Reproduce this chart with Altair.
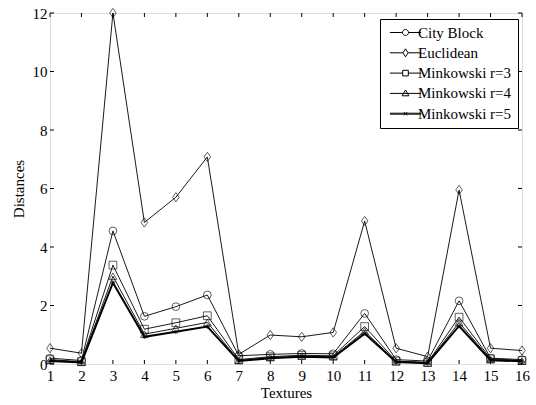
import altair as alt
import pandas as pd

textures = list(range(1, 17))
series_names = ["City Block", "Euclidean", "Minkowski r=3", "Minkowski r=4", "Minkowski r=5"]
city_block = [0.20, 0.12, 4.55, 1.63, 1.96, 2.36, 0.28, 0.33, 0.36, 0.35, 1.73, 0.15, 0.10, 2.16, 0.20, 0.15]
euclidean = [0.54, 0.37, 12.0, 4.84, 5.70, 7.08, 0.33, 0.99, 0.93, 1.08, 4.89, 0.54, 0.25, 5.95, 0.54, 0.46]
mink3 = [0.15, 0.08, 3.38, 1.19, 1.41, 1.65, 0.15, 0.25, 0.30, 0.28, 1.28, 0.10, 0.05, 1.60, 0.18, 0.12]
mink4 = [0.12, 0.06, 3.00, 1.02, 1.22, 1.42, 0.12, 0.22, 0.27, 0.25, 1.12, 0.08, 0.04, 1.42, 0.15, 0.10]
mink5 = [0.10, 0.05, 2.78, 0.93, 1.10, 1.28, 0.10, 0.20, 0.25, 0.22, 1.04, 0.07, 0.03, 1.30, 0.13, 0.09]
y_ticks = [0, 2, 4, 6, 8, 10, 12]

rows = []
for name, vals in zip(series_names, [city_block, euclidean, mink3, mink4, mink5]):
    for t, v in zip(textures, vals):
        rows.append({"Textures": t, "Distances": v, "series": name})
df = pd.DataFrame(rows)
xt_df = pd.DataFrame({"Textures": textures})
yt_df = pd.DataFrame({"Distances": y_ticks})

FONT = "Liberation Serif"
W, H = 472, 351
x_scale = alt.Scale(domain=[1, 16], nice=False, zero=False)
y_scale = alt.Scale(domain=[0, 12], nice=False, zero=False)

common_axis = dict(ticks=False, domain=False, grid=False, labelOverlap=False,
                   labelFont=FONT, labelFontSize=15, labelColor="black",
                   titleFont=FONT, titleFontSize=15, titleColor="black", titleFontWeight="normal")


def xs():
    return alt.X("Textures:Q", scale=x_scale,
                 axis=alt.Axis(values=textures, title="Textures", labelPadding=4, titlePadding=2,
                               labelFlush=False, **common_axis))


def ys():
    return alt.Y("Distances:Q", scale=y_scale,
                 axis=alt.Axis(values=y_ticks, title="Distances", labelPadding=3, titlePadding=6,
                               labelFlush=False, **common_axis))


thick = alt.datum.series == "Minkowski r=5"

lines = alt.Chart(df).mark_line(color="black").encode(
    x=xs(), y=ys(), detail="series:N",
    strokeWidth=alt.condition(thick, alt.value(2), alt.value(0.9)),
)

point_shapes = ["circle", "M0,-1.2L0.85,0L0,1.2L-0.85,0Z", "square", "triangle-up",
                "M-1,0H1M0,-1V1M-0.7,-0.7L0.7,0.7M-0.7,0.7L0.7,-0.7"]
points = alt.Chart(df).mark_point(filled=False, color="black", strokeWidth=0.9).encode(
    x=xs(), y=ys(),
    shape=alt.Shape("series:N", scale=alt.Scale(domain=series_names, range=point_shapes), legend=None),
    size=alt.condition(thick, alt.value(22), alt.value(60)),
)

legend_paths = [
    "M-3.9,0H-0.75M0.75,0H3.9M-0.75,0A0.75,0.75 0 1,0 0.75,0A0.75,0.75 0 1,0 -0.75,0",
    "M-3.9,0H-0.65M0.65,0H3.9M0,-1L0.65,0L0,1L-0.65,0Z",
    "M-3.9,0H-0.7M0.7,0H3.9M-0.7,-0.7H0.7V0.7H-0.7Z",
    "M-3.9,0H3.9M0,-0.85L0.85,0.6H-0.85Z",
    "M-3.9,-0.12H3.9M-3.9,0.12H3.9M-0.4,-0.4L0.4,0.4M-0.4,0.4L0.4,-0.4",
]
legend_layer = alt.Chart(df).transform_filter("false").mark_point(filled=False, color="black").encode(
    x=xs(), y=ys(),
    shape=alt.Shape("series:N", scale=alt.Scale(domain=series_names, range=legend_paths),
                    legend=alt.Legend(title=None, orient="none", legendX=330, legendY=6,
                                      symbolSize=64, symbolStrokeColor="black", symbolFillColor="transparent",
                                      symbolStrokeWidth=1, symbolOpacity=1,
                                      symbolOffset=12, labelOffset=5,
                                      labelFont=FONT, labelFontSize=15, labelColor="black",
                                      rowPadding=4.3, padding=6, strokeColor="black", fillColor="white",
                                      cornerRadius=0)),
)

TL = 4
tick_x_bottom = alt.Chart(xt_df).mark_rule(color="black", strokeWidth=1).encode(
    x=xs(), y=alt.value(H), y2=alt.value(H - TL))
tick_x_top = alt.Chart(xt_df).mark_rule(color="black", strokeWidth=1).encode(
    x=xs(), y=alt.value(0), y2=alt.value(TL))
tick_y_left = alt.Chart(yt_df).mark_rule(color="black", strokeWidth=1).encode(
    y=ys(), x=alt.value(0), x2=alt.value(TL))
tick_y_right = alt.Chart(yt_df).mark_rule(color="black", strokeWidth=1).encode(
    y=ys(), x=alt.value(W), x2=alt.value(W - TL))

chart = alt.layer(lines, points, tick_x_bottom, tick_x_top, tick_y_left, tick_y_right,
                  legend_layer).resolve_scale(shape="independent").properties(
    width=W, height=H,
    autosize=alt.AutoSizeParams(type="none"),
    padding={"left": 50, "top": 13, "right": 14, "bottom": 41},
).configure_view(stroke="black", strokeWidth=1).configure(
    background="white", font=FONT
).configure_legend(labelFont=FONT, labelFontSize=15)

chart.save("out.html", embed_options={"renderer": "svg", "actions": False})
